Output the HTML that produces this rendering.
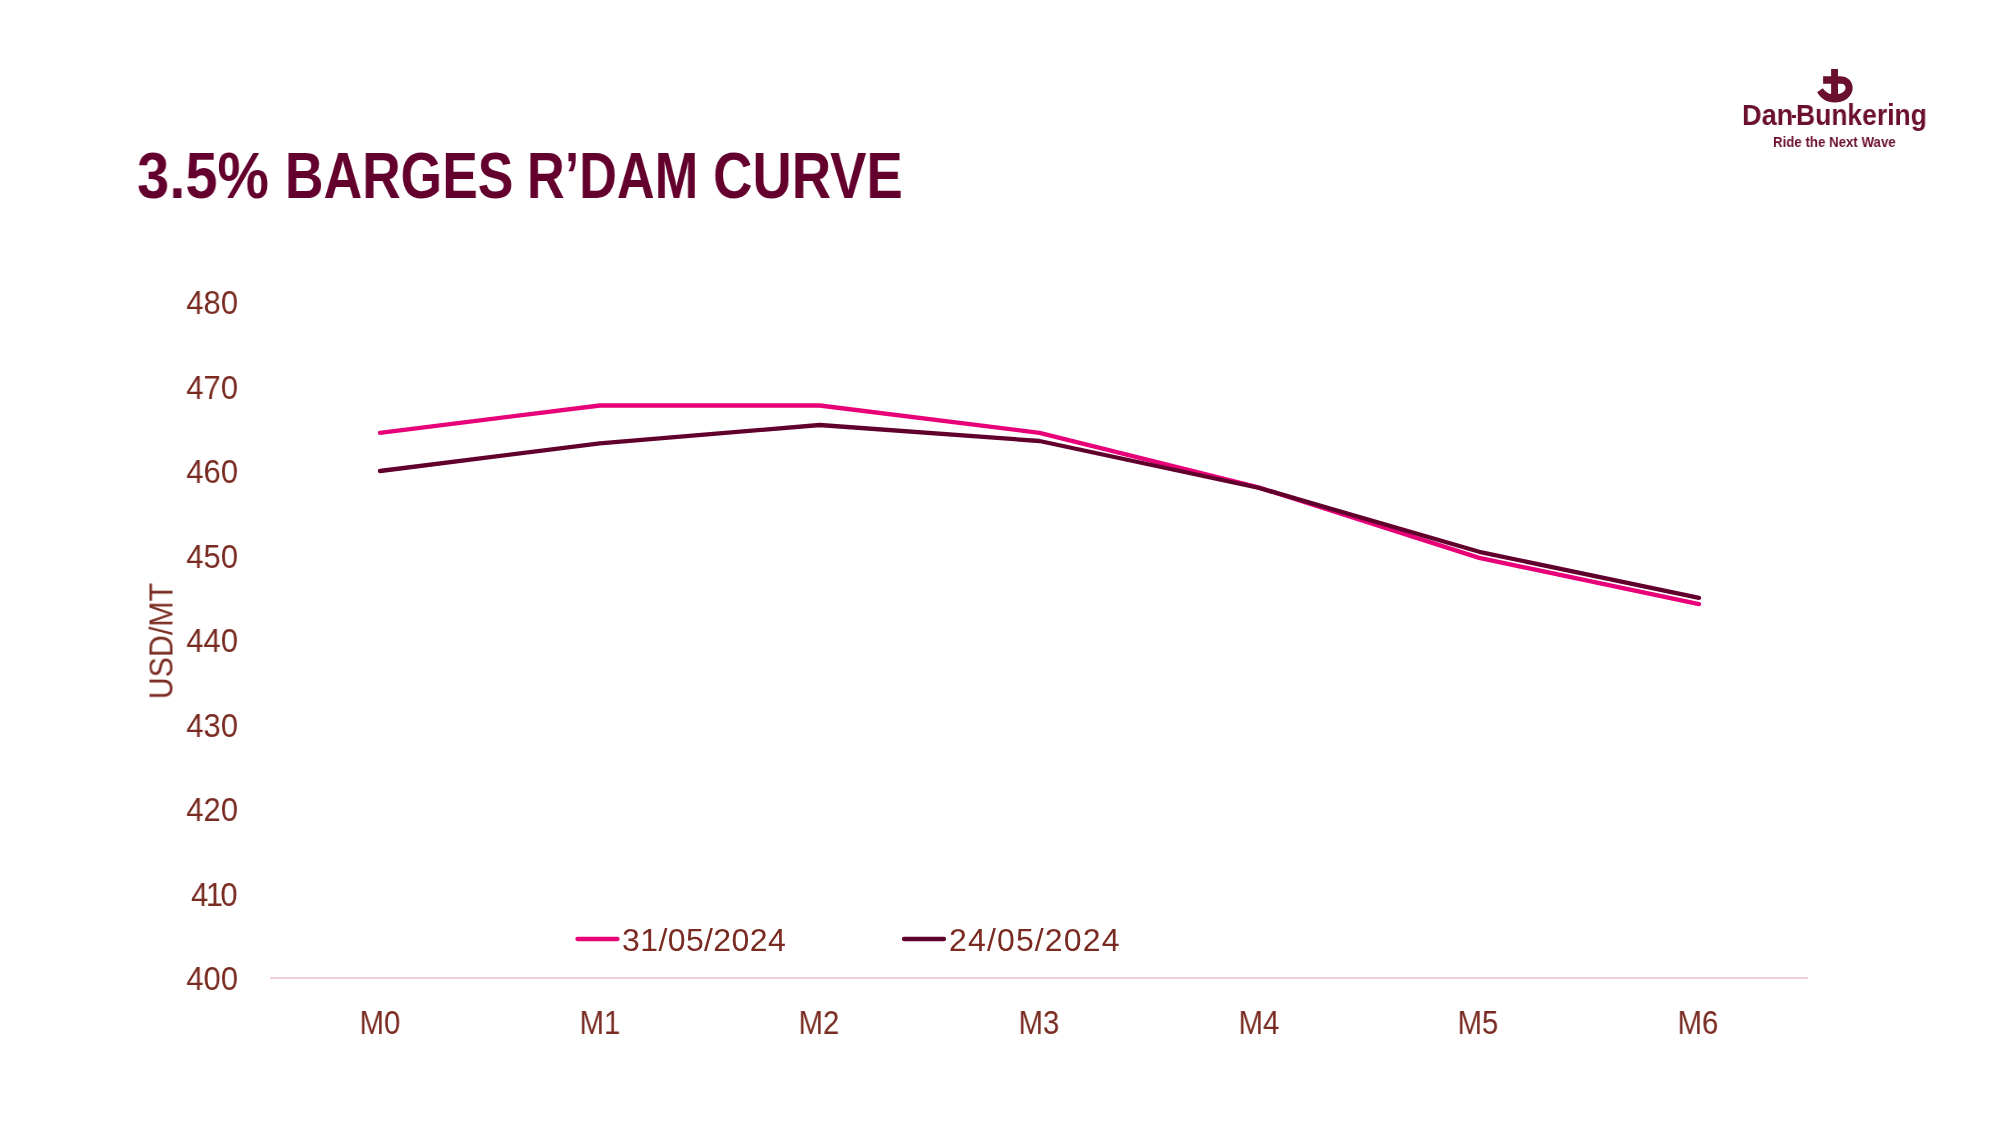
<!DOCTYPE html>
<html>
<head>
<meta charset="utf-8">
<style>
html,body{margin:0;padding:0;background:#fff;}
body{width:2000px;height:1125px;position:relative;overflow:hidden;font-family:"Liberation Sans",sans-serif;}
.yl,.xl,.lg,#ylab,.lgt,#logo2,.tw{will-change:transform;}
.t{position:absolute;white-space:nowrap;line-height:1;}
.tw{position:absolute;top:143px;font-size:65px;line-height:65px;font-weight:700;color:#64002d;transform-origin:0 0;white-space:nowrap;}
.yl{position:absolute;right:1762px;font-size:33px;line-height:33px;transform-origin:100% 50%;transform:scaleX(0.94);color:#792b21;white-space:nowrap;text-align:right;}
.xl{position:absolute;width:100px;text-align:center;transform:scaleX(0.887);font-size:33px;line-height:33px;color:#792b21;top:1006.3px;}
.lg{position:absolute;font-size:32px;line-height:32px;color:#792b21;top:924px;white-space:nowrap;}
#ylab{position:absolute;left:160.5px;top:640.5px;font-size:33px;line-height:33px;color:#792b21;white-space:nowrap;transform:translate(-50%,-50%) rotate(-90deg) scaleX(0.92);}
.lgt{position:absolute;top:100.5px;font-size:29px;line-height:29px;font-weight:700;color:#6a0f2e;white-space:nowrap;transform-origin:0 0;}
#logo2{position:absolute;left:1773.3px;top:135.3px;font-size:14.5px;line-height:14.5px;font-weight:700;color:#6a0f2e;white-space:nowrap;transform-origin:0 0;transform:scaleX(0.915);}
</style>
</head>
<body>
<div class="tw" style="left:136.7px;transform:scaleX(0.891)">3.5%</div>
<div class="tw" style="left:285.4px;transform:scaleX(0.821)">BARGES</div>
<div class="tw" style="left:527.4px;transform:scaleX(0.803)">R’DAM</div>
<div class="tw" style="left:712.5px;transform:scaleX(0.838)">CURVE</div>

<!-- logo -->
<svg style="position:absolute;left:1800px;top:62px" width="70" height="50" viewBox="0 0 1575 1125">
<path fill="#6a0f2e" fill-rule="evenodd" d="M700 160 H855 V320 H900 C1070 320 1185 430 1185 580 C1185 780 1000 912 780 912 C600 912 470 820 385 680 L510 590 C570 660 630 710 700 722 V490 H520 V320 H700 Z M855 490 H930 C990 490 1025 530 1025 580 C1025 650 950 710 855 722 Z"/>
</svg>
<div class="lgt" style="left:1741.8px;transform:scaleX(0.936)">Dan</div>
<div style="position:absolute;left:1792.3px;top:115.2px;width:3.8px;height:2.9px;background:#6a0f2e"></div>
<div class="lgt" style="left:1796.4px;transform:scaleX(0.912)">Bunkering</div>
<div id="logo2">Ride the Next Wave</div>

<!-- y axis labels -->
<div class="yl" style="top:286.3px">480</div>
<div class="yl" style="top:370.8px">470</div>
<div class="yl" style="top:455.3px">460</div>
<div class="yl" style="top:539.8px">450</div>
<div class="yl" style="top:624.3px">440</div>
<div class="yl" style="top:708.8px">430</div>
<div class="yl" style="top:793.3px">420</div>
<div class="yl" style="top:877.8px"><span style="letter-spacing:-2.7px">41</span>0</div>
<div class="yl" style="top:962.3px">400</div>

<div id="ylab">USD/MT</div>

<!-- chart -->
<svg style="position:absolute;left:0;top:0" width="2000" height="1125">
<line x1="270" y1="978" x2="1808" y2="978" stroke="#efcfdc" stroke-width="2"/>
<polyline fill="none" stroke="#e70077" stroke-width="4.3" stroke-linecap="round" stroke-linejoin="round"
 points="380,432.8 599.8,405.5 819.7,405.5 1039.5,432.8 1259.3,487.6 1479.2,557.9 1699,604.1"/>
<polyline fill="none" stroke="#62002d" stroke-width="4.3" stroke-linecap="round" stroke-linejoin="round"
 points="380,471 599.8,443.3 819.7,425 1039.5,441 1259.3,488 1479.2,551.8 1699,597.9"/>
<line x1="577.5" y1="939" x2="617.5" y2="939" stroke="#e70077" stroke-width="4.3" stroke-linecap="round"/>
<line x1="904" y1="939" x2="944" y2="939" stroke="#62002d" stroke-width="4.3" stroke-linecap="round"/>
</svg>

<div class="lg" style="left:622px;letter-spacing:0.4px">31/05/2024</div>
<div class="lg" style="left:949px;letter-spacing:1.15px">24/05/2024</div>

<!-- x labels -->
<div class="xl" style="left:330px">M0</div>
<div class="xl" style="left:550px">M1</div>
<div class="xl" style="left:769px">M2</div>
<div class="xl" style="left:989px">M3</div>
<div class="xl" style="left:1209px">M4</div>
<div class="xl" style="left:1428px">M5</div>
<div class="xl" style="left:1648px">M6</div>
</body>
</html>
